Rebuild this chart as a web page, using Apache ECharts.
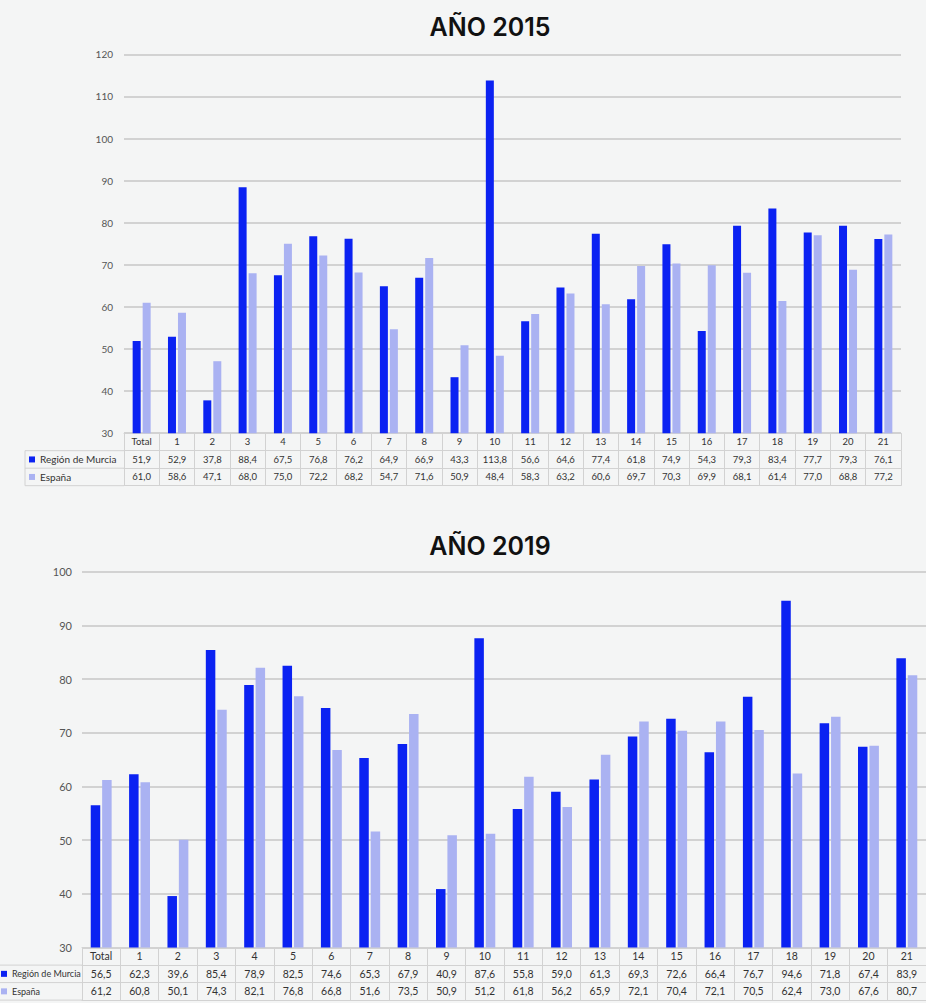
<!DOCTYPE html>
<html><head><meta charset="utf-8">
<script src="https://cdn.jsdelivr.net/npm/echarts@6/dist/echarts.min.js"></script>
<style>html,body{margin:0;padding:0;background:#f4f5f5;overflow:hidden}#c{width:926px;height:1003px}</style>
</head><body><div id="c"></div><script>
const categories = ['Total','1','2','3','4','5','6','7','8','9','10','11','12','13','14','15','16','17','18','19','20','21'];
const seriesNames = ['Región de Murcia','España'];
const titles = ['AÑO 2015','AÑO 2019'];
const murcia2015 = [51.9,52.9,37.8,88.4,67.5,76.8,76.2,64.9,66.9,43.3,113.8,56.6,64.6,77.4,61.8,74.9,54.3,79.3,83.4,77.7,79.3,76.1];
const espana2015 = [61.0,58.6,47.1,68.0,75.0,72.2,68.2,54.7,71.6,50.9,48.4,58.3,63.2,60.6,69.7,70.3,69.9,68.1,61.4,77.0,68.8,77.2];
const murcia2019 = [56.5,62.3,39.6,85.4,78.9,82.5,74.6,65.3,67.9,40.9,87.6,55.8,59.0,61.3,69.3,72.6,66.4,76.7,94.6,71.8,67.4,83.9];
const espana2019 = [61.2,60.8,50.1,74.3,82.1,76.8,66.8,51.6,73.5,50.9,51.2,61.8,56.2,65.9,72.1,70.4,72.1,70.5,62.4,73.0,67.6,80.7];

const DARK = '#0b22f2', LIGHT = '#aab2f2';
const LINE = '#d2d2d2', TXT = '#333', F = 'Lato';
const fmt = v => v.toFixed(1).replace('.', ',');

function tableAxes(gi, rows, fs, rowH) {
  const base = () => ({
    type: 'category', gridIndex: gi, data: categories, position: 'bottom', boundaryGap: true,
    axisLine: { show: true, lineStyle: { color: LINE, width: 1 } },
    axisTick: { show: true, interval: 0, length: rowH, lineStyle: { color: LINE, width: 1 } },
    splitLine: { show: false }
  });
  const lbl = { interval: 0, margin: rowH / 2, verticalAlign: 'middle', fontSize: fs, color: TXT, fontFamily: F };
  const axes = [Object.assign(base(), { offset: 0, axisLabel: Object.assign({}, lbl) })];
  rows.forEach((arr, i) => {
    axes.push(Object.assign(base(), { offset: rowH * (i + 1),
      axisLabel: Object.assign({}, lbl, { formatter: (v, idx) => fmt(arr[idx]) }) }));
  });
  axes.push(Object.assign(base(), { offset: rowH * 3, axisTick: { show: false }, axisLabel: { show: false } }));
  return axes;
}

const RH1 = 17.5, RH2 = 17.5;
const grid1 = { left: 124, top: 54.3, width: 777, height: 378.9 };
const grid2 = { left: 82, top: 571.7, width: 860, height: 375.9 };
const b1 = grid1.top + grid1.height, b2 = grid2.top + grid2.height;

const lineEl = (x1, y1, x2, y2) => ({ type: 'line', silent: true, shape: { x1, y1, x2, y2 }, style: { stroke: LINE, lineWidth: 1 } });
const titleStyle = { fontFamily: 'Inter', fontWeight: 600, fontSize: 25, color: '#111' };

const chart = echarts.init(document.getElementById('c'), null, { renderer: 'svg' });
chart.setOption({
  backgroundColor: '#f4f5f5',
  animation: false,
  title: [
    { text: titles[0], left: 490, top: 14, textAlign: 'center', padding: 0, textStyle: titleStyle },
    { text: titles[1], left: 490, top: 533, textAlign: 'center', padding: 0, textStyle: titleStyle }
  ],
  legend: [
    { orient: 'vertical', left: 29, top: b1 + RH1, padding: 0, itemGap: 0, itemWidth: 6, itemHeight: 6, icon: 'rect', data: seriesNames, selectedMode: false,
      textStyle: { fontSize: 10, lineHeight: RH1, color: TXT, fontFamily: F } },
    { orient: 'vertical', left: 1, top: b2 + RH2, padding: 0, itemGap: 0, itemWidth: 6, itemHeight: 6, icon: 'rect', data: seriesNames, selectedMode: false,
      textStyle: { fontSize: 9, lineHeight: RH2, color: TXT, fontFamily: F } }
  ],
  grid: [grid1, grid2],
  xAxis: tableAxes(0, [murcia2015, espana2015], 9.5, RH1).concat(tableAxes(1, [murcia2019, espana2019], 10.5, RH2)),
  yAxis: [
    { type: 'value', gridIndex: 0, min: 30, max: 120, interval: 10, axisLine: { show: false }, axisTick: { show: false },
      axisLabel: { fontSize: 10, color: '#555', margin: 11, fontFamily: F }, splitLine: { lineStyle: { color: LINE, width: 2 } } },
    { type: 'value', gridIndex: 1, min: 30, max: 100, interval: 10, axisLine: { show: false }, axisTick: { show: false },
      axisLabel: { fontSize: 11, color: '#555', margin: 10, fontFamily: F }, splitLine: { lineStyle: { color: LINE, width: 2 } } }
  ],
  series: [
    { name: seriesNames[0], type: 'bar', xAxisIndex: 0, yAxisIndex: 0, data: murcia2015, barWidth: 8, barGap: '25%', itemStyle: { color: DARK } },
    { name: seriesNames[1], type: 'bar', xAxisIndex: 0, yAxisIndex: 0, data: espana2015, barWidth: 8, barGap: '25%', itemStyle: { color: LIGHT } },
    { name: seriesNames[0], type: 'bar', xAxisIndex: 4, yAxisIndex: 1, data: murcia2019, barWidth: 9.5, barGap: '20%', itemStyle: { color: DARK } },
    { name: seriesNames[1], type: 'bar', xAxisIndex: 4, yAxisIndex: 1, data: espana2019, barWidth: 9.5, barGap: '20%', itemStyle: { color: LIGHT } }
  ],
  graphic: [
    lineEl(25, b1 + RH1, grid1.left, b1 + RH1),
    lineEl(25, b1 + RH1 * 2, grid1.left, b1 + RH1 * 2),
    lineEl(25, b1 + RH1 * 3, grid1.left, b1 + RH1 * 3),
    lineEl(25, b1 + RH1, 25, b1 + RH1 * 3),
    lineEl(-5, b2 + RH2, grid2.left, b2 + RH2),
    lineEl(-5, b2 + RH2 * 2, grid2.left, b2 + RH2 * 2),
    lineEl(-5, b2 + RH2 * 3, grid2.left, b2 + RH2 * 3)
  ]
});
</script></body></html>
